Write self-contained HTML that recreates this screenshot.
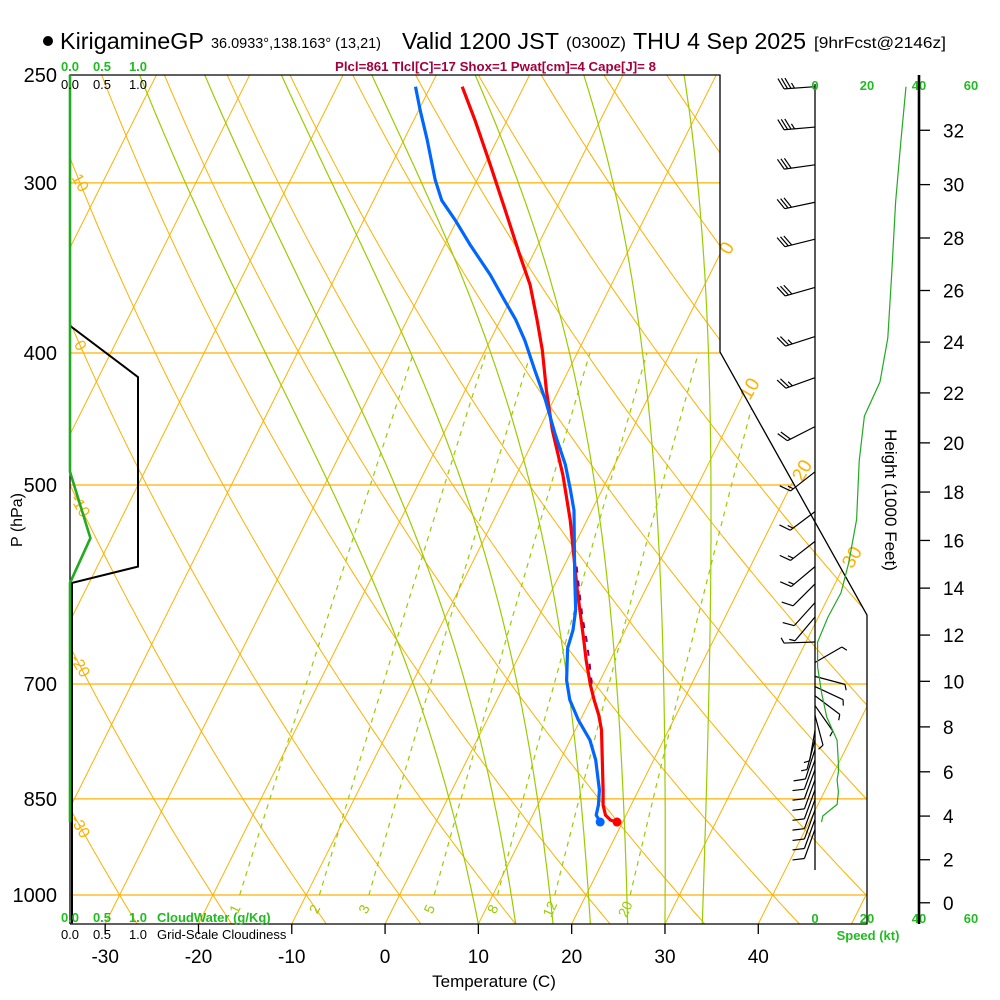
<!DOCTYPE html>
<html><head><meta charset="utf-8"><title>Skew-T KirigamineGP</title>
<style>
html,body{margin:0;padding:0;background:#fff;}
svg{display:block;font-family:"Liberation Sans",Arial,sans-serif;}
</style></head>
<body>
<svg id="chart" width="1000" height="1000" viewBox="0 0 1000 1000" xmlns="http://www.w3.org/2000/svg">
<defs>
<clipPath id="plotclip"><polygon points="70,75 720,75 720,352 867,615 867,924 70,924"/></clipPath>
</defs>
<rect x="0" y="0" width="1000" height="1000" fill="#fff"/>
<g>
<circle cx="48" cy="41" r="5" fill="#000"/>
<text x="60" y="49" font-size="23" textLength="144" lengthAdjust="spacingAndGlyphs">KirigamineGP</text>
<text x="211" y="48" font-size="15" textLength="170" lengthAdjust="spacingAndGlyphs">36.0933°,138.163° (13,21)</text>
<text x="402" y="49" font-size="23" textLength="157" lengthAdjust="spacingAndGlyphs">Valid 1200 JST</text>
<text x="566" y="48" font-size="16" textLength="60" lengthAdjust="spacingAndGlyphs">(0300Z)</text>
<text x="633" y="49" font-size="23" textLength="173" lengthAdjust="spacingAndGlyphs">THU 4 Sep 2025</text>
<text x="814" y="48" font-size="16" textLength="132" lengthAdjust="spacingAndGlyphs">[9hrFcst@2146z]</text>
<text x="335" y="71" font-size="12.5" font-weight="bold" fill="#a3003c" textLength="321" lengthAdjust="spacingAndGlyphs">Plcl=861 Tlcl[C]=17 Shox=1 Pwat[cm]=4 Cape[J]= 8</text>
</g>
<g id="grid" clip-path="url(#plotclip)"></g>
<g id="fg"></g>
</svg>
<script>
// ---------- data ----------
const pressureLevels = [300, 400, 500, 700, 850, 1000];
const pressureLabels = ["250","300","400","500","700","850","1000"];
const pressureLabelValues = [250,300,400,500,700,850,1000];
const tempTicks = [-30,-20,-10,0,10,20,30,40];
const isotherms = [-130,-120,-110,-100,-90,-80,-70,-60,-50,-40,-30,-20,-10,0,10,20,30,40,50];
const dryAdiabats = [-40,-30,-20,-10,0,10,20,30,40,50,60,70,80,90,100,110,120,130,140,150,160,170];
const dryLabels = [10,0,-10,-20,-30];
const moistStarts = [10,14,18,22,26,30,34];
const mixRatios = [1,2,3,5,8,12,20];
const isoLabelT = [0,10,20,30];
const isoLabelP = [335,425,488,565];
// temperature profile
const tempP = [255,270,291,314,339,356.5,378,398,426,456,491.6,530.5,574,597,623,650,672,701,719,737.5,756.5,796,837.5,859,873.7,881,884];
const tempT = [-36.6,-33.4,-29.4,-25.4,-21.4,-18.7,-16.1,-13.9,-11.3,-8.5,-5.0,-1.8,1.2,2.7,4.4,6.1,7.4,9.2,10.4,11.7,12.8,14.5,16.2,17.0,17.8,18.6,19.4];
// dewpoint profile
const dewP = [255,265,279,298.5,309,319.5,333,350.5,366,378,391.5,412,433,459,483,504,522,567.5,587,617.5,639,659,695.5,719,744,769.5,796,837.5,859,873.7,884];
const dewT = [-41.6,-39.9,-37.5,-34.5,-32.7,-30.2,-27.3,-23.5,-20.6,-18.4,-16.3,-13.6,-10.9,-8.0,-5.3,-3.4,-1.9,0.8,1.9,3.6,4.4,4.8,6.4,7.8,9.8,12.1,13.8,15.8,16.5,16.8,17.6];
// parcel segment
const parcelP = [574,600,625,650,675,700];
const parcelT = [1.4,3.1,4.7,6.4,7.9,9.3];
// winds
const windP = [255,273,291,310,330,358,389,417,453,489,523,550,574,591,610,625,652,675,691,703,714,726,738,757,769,782,796,809,823,837,851,866,880,895];
const windDir = [266,265,262,258,256,254,252,250,243,232,233,232,230,225,222,220,268,60,105,115,127,145,165,190,195,198,200,200,200,200,200,200,200,200];
const windSpd = [35,35,32,30,30,28,26,24,19,17,17,15,13,11,8,5,3,3,3,3,3,3,3,5,5,10,10,10,10,10,10,10,10,10];
// speed profile
const spdP = [255,280,310,350,390,420,445,480,530,570,600,625,652,680,710,740,770,800,812,823,840,858,875,884];
const spdKt = [35,33,31,29.5,28,25,19,17,16,13,10,5,1,1,2.5,4.5,8.5,9,9,8.5,9,8.5,3,2.5];
// cloud panel
const cloudP = [250,382,416.6,434,574,590,606,1049];
const cloudFrac = [0,0,1.0,1.0,1.0,0.03,0.03,0.03];
const cwP = [250,489,547,590,884];
const cwVal = [0,0,0.3,0,0];
const heightTicks = [0,2,4,6,8,10,12,14,16,18,20,22,24,26,28,30,32];

// ---------- axes ----------
const NS = "http://www.w3.org/2000/svg";
const grid = document.getElementById('grid');
const fg = document.getElementById('fg');
function yP(p){ return 75 + 591.5*Math.log(p/250); }
function xT(T,p){ return 385 + 9.33*T + 0.5*(924 - yP(p)); }
function xSpd(k){ return 815 + 2.6*k; }
function xCloud(v){ return 70 + 68*v; }
function stdP(kft){ const z=kft*1000*0.3048; return 1013.25*Math.pow(1-2.25577e-5*z,5.25588); }
function el(tag, attrs, parent){ const e=document.createElementNS(NS,tag); for(const k in attrs) e.setAttribute(k,attrs[k]); (parent||fg).appendChild(e); return e; }
function pts(arr){ return arr.map(a=>a[0].toFixed(1)+','+a[1].toFixed(1)).join(' '); }
const ORANGE="#ffb000", MGREEN="#99cc00";

// pressure lines
pressureLevels.forEach(p=>{
  const e=el('line',{x1:70,x2:900,y1:yP(p),y2:yP(p),stroke:ORANGE,'stroke-width':1.3},grid);
  
  
});
// isotherms
isotherms.forEach(T=>{
  const e=el('line',{x1:xT(T,1060),y1:yP(1060),x2:xT(T,240),y2:yP(240),stroke:ORANGE,'stroke-width':1},grid);
  
  
});
// dry adiabats
dryAdiabats.forEach(th=>{
  const a=[]; for(let p=1060;p>=240;p-=10){ const T=(th+273.15)*Math.pow(p/1000,0.2857)-273.15; a.push([xT(T,p),yP(p)]); }
  const e=el('polyline',{points:pts(a),fill:'none',stroke:ORANGE,'stroke-width':1},grid);
  
  
});
// moist adiabats
function es(T){ return 6.112*Math.exp(17.67*T/(T+243.5)); }
moistStarts.forEach(T0=>{
  let T=T0, a=[];
  for(let p=1050;p>=240;p-=2){
    a.push([xT(T,p),yP(p)]);
    const Tk=T+273.15, e=es(T), rs=0.622*e/(p-e);
    const dTdp=(287*Tk+2.5e6*rs)/(p*(1005+2.5e6*2.5e6*rs*0.622/(287*Tk*Tk)));
    T-=dTdp*2;
  }
  const e=el('polyline',{points:pts(a),fill:'none',stroke:MGREEN,'stroke-width':1.2},grid);
  
  
});
// mixing ratio lines
function tdOf(w,p){ const e=w*p/(622+w); const l=Math.log(e/6.112); return 243.5*l/(17.67-l); }
mixRatios.forEach(w=>{
  const a=[]; for(let p=1000;p>=400;p-=10) a.push([xT(tdOf(w,p),p),yP(p)]);
  const e=el('polyline',{points:pts(a),fill:'none',stroke:MGREEN,'stroke-width':1.2,'stroke-dasharray':'5,5'},grid);
  
  
  const x=xT(tdOf(w,1000),1000)-5;
  const t=el('text',{x:x,y:914,'font-size':14,fill:MGREEN,'text-anchor':'middle',transform:'rotate(-65 '+x+' 909)'},fg);
  t.textContent=String(w);
  
  
});
// dry adiabat labels (left)
dryLabels.forEach(th=>{
  let best=250, bd=1e9;
  for(let p=250;p<=1050;p+=1){ const T=(th+273.15)*Math.pow(p/1000,0.2857)-273.15; const d=Math.abs(xT(T,p)-80); if(d<bd){bd=d;best=p;} }
  const y=yP(best);
  const t=el('text',{x:80,y:y+5,'font-size':16,fill:ORANGE,'text-anchor':'middle',transform:'rotate(60 80 '+y+')'},fg);
  t.textContent=String(th);
  
  
});
// isotherm labels (right)
isoLabelT.forEach((T,i)=>{
  const p=isoLabelP[i], x=xT(T,p)+4, y=yP(p);
  const t=el('text',{x:x,y:y+6,'font-size':19,fill:ORANGE,'text-anchor':'middle',transform:'rotate(-60 '+x+' '+y+')'},fg);
  t.textContent=String(T);
  
  
});

// frame
let f=el('polyline',{points:'70,924 70,75 720,75 720,352 867,615 867,924 70,924',fill:'none',stroke:'#000','stroke-width':1.3});



// pressure labels
pressureLabelValues.forEach((p,i)=>{
  const t=el('text',{x:57,y:yP(p)+7,'font-size':20,'text-anchor':'end'});
  t.textContent=pressureLabels[i];
  
  
});
let pt=el('text',{x:22,y:520,'font-size':16,'text-anchor':'middle',transform:'rotate(-90 22 520)'});
pt.textContent='P (hPa)';



// temperature ticks
tempTicks.forEach(T=>{
  const x=xT(T,1050);
  const l=el('line',{x1:x,x2:x,y1:924,y2:934,stroke:'#000','stroke-width':1.3});
  
  
  const t=el('text',{x:x,y:963,'font-size':19,'text-anchor':'middle'});
  t.textContent=String(T);
  
  
});
let tt=el('text',{x:494,y:987,'font-size':17,'text-anchor':'middle'});
tt.textContent='Temperature (C)';



// cloud panel
const cl=el('polyline',{points:pts(cloudP.map((p,i)=>[xCloud(cloudFrac[i]),yP(p)])),fill:'none',stroke:'#000','stroke-width':2});


const cw=el('polyline',{points:pts(cwP.map((p,i)=>[xCloud(cwVal[i]),yP(p)])),fill:'none',stroke:'#22aa22','stroke-width':2.6});


[['0.0',70],['0.5',102],['1.0',138]].forEach(a=>{
  const g=el('text',{x:a[1],y:71,'font-size':13,'font-weight':'bold',fill:'#22bb22','text-anchor':'middle'});
  g.textContent=a[0];
  
  
  const k=el('text',{x:a[1],y:89,'font-size':13,'text-anchor':'middle'});
  k.textContent=a[0];
  
  
  const g2=el('text',{x:a[1],y:922,'font-size':13,'font-weight':'bold',fill:'#22bb22','text-anchor':'middle'});
  g2.textContent=a[0];
  
  
  const k2=el('text',{x:a[1],y:939,'font-size':13,'text-anchor':'middle'});
  k2.textContent=a[0];
  
  
});
let cwt=el('text',{x:157,y:922,'font-size':13,'font-weight':'bold',fill:'#22bb22'});
cwt.textContent='CloudWater (g/Kg)';


let cct=el('text',{x:157,y:939,'font-size':13});
cct.textContent='Grid-Scale Cloudiness';



// profiles
const tl=el('polyline',{points:pts(tempP.map((p,i)=>[xT(tempT[i],p),yP(p)])),fill:'none',stroke:'#ff0000','stroke-width':3.2,'stroke-linejoin':'round'});


const pl=el('polyline',{points:pts(parcelP.map((p,i)=>[xT(parcelT[i],p),yP(p)])),fill:'none',stroke:'#880066','stroke-width':2,'stroke-dasharray':'6,8'});


const dl=el('polyline',{points:pts(dewP.map((p,i)=>[xT(dewT[i],p),yP(p)])),fill:'none',stroke:'#0066ff','stroke-width':3.2,'stroke-linejoin':'round'});


const tn=tempP.length-1, dn=dewP.length-1;
const tdot=el('circle',{cx:xT(tempT[tn],tempP[tn]),cy:yP(tempP[tn]),r:4.5,fill:'#ff0000'});


const ddot=el('circle',{cx:xT(dewT[dn],dewP[dn]),cy:yP(dewP[dn]),r:4.5,fill:'#0066ff'});



// wind panel
let wl=el('line',{x1:815,x2:815,y1:84,y2:870,stroke:'#000','stroke-width':1.3});


windP.forEach((p,i)=>{
  const d=windDir[i]*Math.PI/180, sx=815, sy=yP(p), L=31;
  const ux=Math.sin(d), uy=-Math.cos(d);
  const ex=sx+ux*L, ey=sy+uy*L;
  const g=el('g',{});
  
  
  el('line',{x1:sx,y1:sy,x2:ex,y2:ey,stroke:'#000','stroke-width':1.2},g);
  const rx=-uy, ry=ux;
  const bx=0.45*ux+0.89*rx, by=0.45*uy+0.89*ry;
  let s=Math.round(windSpd[i]/5)*5, pos=0;
  while(s>=10){ const px=ex-ux*pos, py=ey-uy*pos; el('line',{x1:px,y1:py,x2:px+bx*12,y2:py+by*12,stroke:'#000','stroke-width':1.2},g); s-=10; pos+=3.5; }
  if(s>=5){ const px=ex-ux*pos, py=ey-uy*pos; el('line',{x1:px,y1:py,x2:px+bx*6,y2:py+by*6,stroke:'#000','stroke-width':1.2},g); }
});
const sl=el('polyline',{points:pts(spdP.map((p,i)=>[xSpd(spdKt[i]),yP(p)])),fill:'none',stroke:'#22aa22','stroke-width':1.2});


[0,20,40,60].forEach(k=>{
  const a=el('text',{x:xSpd(k),y:90,'font-size':13,'font-weight':'bold',fill:'#22bb22','text-anchor':'middle'});
  a.textContent=String(k);
  
  
  const b=el('text',{x:xSpd(k),y:923,'font-size':13,'font-weight':'bold',fill:'#22bb22','text-anchor':'middle'});
  b.textContent=String(k);
  
  
});
let sk=el('text',{x:868,y:940,'font-size':13,'font-weight':'bold',fill:'#22bb22','text-anchor':'middle'});
sk.textContent='Speed (kt)';



// height axis
let ha=el('line',{x1:919,x2:919,y1:75,y2:924,stroke:'#000','stroke-width':2.6});


heightTicks.forEach(h=>{
  const y=yP(stdP(h));
  const l=el('line',{x1:919,x2:930,y1:y,y2:y,stroke:'#000','stroke-width':1.3});
  
  
  const t=el('text',{x:943,y:y+7,'font-size':19});
  t.textContent=String(h);
  
  
});
let ht=el('text',{x:885,y:500,'font-size':17,'text-anchor':'middle',transform:'rotate(90 885 500)'});
ht.textContent='Height (1000 Feet)';


</script>
</body></html>
